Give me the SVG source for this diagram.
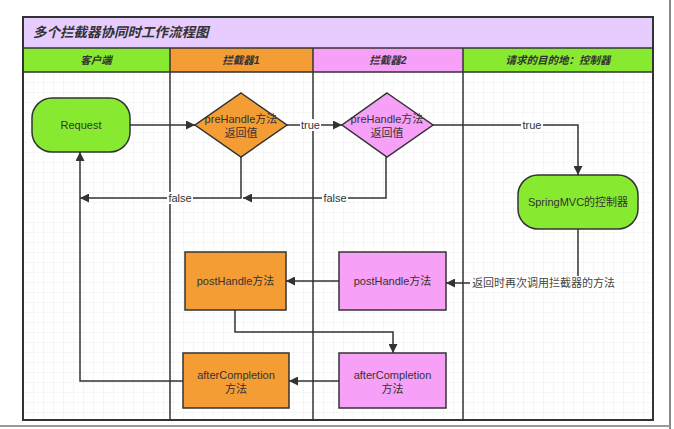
<svg xmlns="http://www.w3.org/2000/svg" width="674" height="429" viewBox="0 0 674 429">
<defs>
<pattern id="grid" width="10" height="10" patternUnits="userSpaceOnUse" x="3" y="2">
<path d="M10 0 L0 0 0 10" fill="none" stroke="#ededed" stroke-width="1"/>
</pattern>
<marker id="arr" viewBox="0 0 10 10" refX="10" refY="5" markerWidth="9" markerHeight="9" markerUnits="userSpaceOnUse" orient="auto">
<path d="M0 0 L10 5 L0 10 Z" fill="#333"/>
</marker>
<style>
.ln{fill:none;stroke:#333;stroke-width:1.5}
.nd{stroke:#333;stroke-width:1.5}
.t{font-family:"Liberation Sans","Noto Sans CJK SC",sans-serif;font-size:11px;fill:#333;text-anchor:middle;dominant-baseline:central}
.h{font-family:"Liberation Sans","Noto Sans CJK SC",sans-serif;font-size:10.5px;font-weight:bold;font-style:italic;fill:#333;text-anchor:middle;dominant-baseline:central}
.lb{font-family:"Liberation Sans","Noto Sans CJK SC",sans-serif;font-size:11px;fill:#444;dominant-baseline:central}
.green{fill:#88EA30}
.orange{fill:#F59D35}
.pink{fill:#F7A0F7}
</style>
</defs>
<rect width="674" height="429" fill="#ffffff"/>
<line x1="670" y1="0" x2="670" y2="429" stroke="#888" stroke-width="2"/>
<line x1="0" y1="426" x2="670" y2="426" stroke="#999" stroke-width="2"/>
<g id="frame">
<rect x="23" y="72" width="630" height="348" fill="url(#grid)"/>
<rect x="23" y="17" width="630" height="31" fill="#E6CCFF"/>
<text x="33" y="32.5" font-family="'Liberation Sans','Noto Sans CJK SC',sans-serif" font-size="13.5" font-weight="bold" font-style="italic" fill="#333" dominant-baseline="central">多个拦截器协同时工作流程图</text>
<rect x="23" y="48" width="147" height="24" class="green"/>
<rect x="170" y="48" width="143" height="24" class="orange"/>
<rect x="313" y="48" width="150" height="24" class="pink"/>
<rect x="463" y="48" width="190" height="24" class="green"/>
<text x="96" y="60" class="h">客户端</text>
<text x="241" y="60" class="h">拦截器1</text>
<text x="388" y="60" class="h">拦截器2</text>
<text x="558" y="60" class="h">请求的目的地：控制器</text>
<line x1="23" y1="48" x2="653" y2="48" class="ln"/>
<line x1="23" y1="72" x2="653" y2="72" class="ln"/>
<line x1="170" y1="48" x2="170" y2="420" class="ln"/>
<line x1="313" y1="48" x2="313" y2="420" class="ln"/>
<line x1="463" y1="48" x2="463" y2="420" class="ln"/>
<rect x="23" y="17" width="630" height="403" fill="none" stroke="#333" stroke-width="2"/>
</g>
<g id="connectors">
<line x1="130" y1="125" x2="195" y2="125" class="ln" marker-end="url(#arr)"/>
<line x1="287" y1="125" x2="342" y2="125" class="ln" marker-end="url(#arr)"/>
<polyline points="433,125 578,125 578,175" class="ln" marker-end="url(#arr)"/>
<polyline points="241,157 241,198 80,198" class="ln" marker-end="url(#arr)"/>
<polyline points="386,157 386,198 243,198" class="ln" marker-end="url(#arr)"/>
<polyline points="578,229 578,283 446,283" class="ln" marker-end="url(#arr)"/>
<line x1="339" y1="281" x2="286" y2="281" class="ln" marker-end="url(#arr)"/>
<polyline points="235,310 235,332 393,332 393,353" class="ln" marker-end="url(#arr)"/>
<line x1="339" y1="381" x2="289" y2="381" class="ln" marker-end="url(#arr)"/>
<polyline points="183,381 80,381 80,152" class="ln" marker-end="url(#arr)"/>
<rect x="300" y="119" width="21" height="12" fill="#fff"/>
<text x="310.5" y="125" class="t">true</text>
<rect x="521" y="119" width="22" height="12" fill="#fff"/>
<text x="532" y="125" class="t">true</text>
<rect x="167" y="192" width="26" height="12" fill="#fff"/>
<text x="180" y="198" class="t">false</text>
<rect x="322" y="192" width="26" height="12" fill="#fff"/>
<text x="335" y="198" class="t">false</text>
<rect x="470" y="276" width="142" height="14" fill="#fff"/>
<text x="472" y="283" class="lb">返回时再次调用拦截器的方法</text>
</g>
<g id="request">
<rect x="32" y="98" width="98" height="54" rx="20" ry="20" class="nd green"/>
<text x="81" y="125" class="t">Request</text>
</g>
<g id="prehandle1">
<polygon points="241,93 287,125 241,157 195,125" class="nd orange"/>
<text x="241" y="119" class="t" font-size="10.5">preHandle方法</text>
<text x="241" y="133" class="t" font-size="10.5">返回值</text>
</g>
<g id="prehandle2">
<polygon points="387,93 433,125 387,157 342,125" class="nd pink"/>
<text x="387" y="119" class="t" font-size="10.5">preHandle方法</text>
<text x="387" y="133" class="t" font-size="10.5">返回值</text>
</g>
<g id="controller">
<rect x="518" y="175" width="120" height="54" rx="20" ry="20" class="nd green"/>
<text x="578" y="202" class="t">SpringMVC的控制器</text>
</g>
<g id="posthandle1">
<rect x="185" y="252" width="101" height="58" class="nd orange"/>
<text x="235.5" y="281" class="t">postHandle方法</text>
</g>
<g id="posthandle2">
<rect x="339" y="252" width="107" height="58" class="nd pink"/>
<text x="392.5" y="281" class="t">postHandle方法</text>
</g>
<g id="aftercompletion1">
<rect x="183" y="353" width="106" height="55" class="nd orange"/>
<text x="236" y="375" class="t">afterCompletion</text>
<text x="236" y="389" class="t">方法</text>
</g>
<g id="aftercompletion2">
<rect x="339" y="353" width="107" height="55" class="nd pink"/>
<text x="392.5" y="375" class="t">afterCompletion</text>
<text x="392.5" y="389" class="t">方法</text>
</g>
</svg>
